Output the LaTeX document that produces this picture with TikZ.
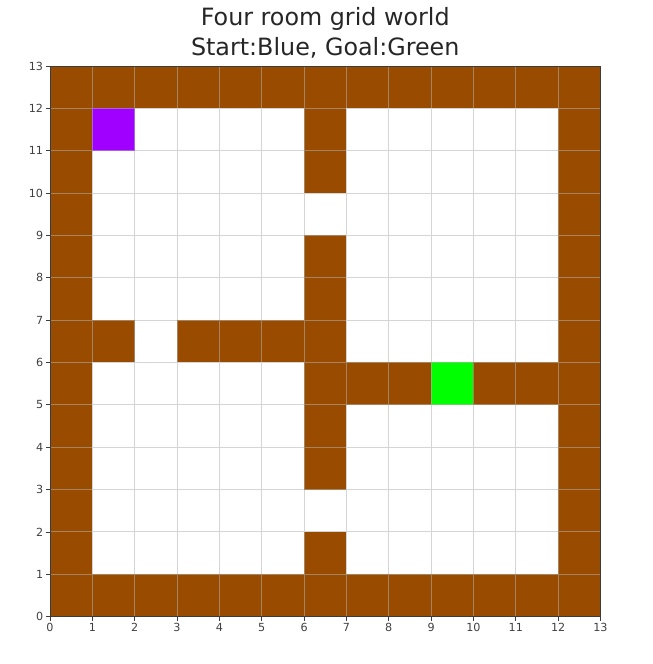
\documentclass[tikz,border=0pt]{standalone}
\usepackage{fontspec}
\setmainfont{DejaVu Sans}
\usepackage{xcolor}
\definecolor{wallbrown}{RGB}{153,76,0}
\definecolor{startpurple}{RGB}{160,0,255}
\definecolor{goalgreen}{RGB}{0,255,0}
\definecolor{spinegray}{RGB}{60,60,60}

\begin{document}
\begin{tikzpicture}[
  % Wall, start and goal cells
  wall/.style={fill=wallbrown},
  startcell/.style={fill=startpurple},
  goalcell/.style={fill=goalgreen},
  % Light grid drawn on top of the cells
  gridline/.style={draw=gray!60,opacity=0.55,line width=0.6pt},
  spine/.style={draw=spinegray,line width=0.5pt},
  tick/.style={draw=spinegray,line width=0.5pt},
  ticklabel/.style={font=\fontsize{7.5}{9}\selectfont,text=black!75,inner sep=1pt},
  titletext/.style={font=\fontsize{16}{20}\selectfont,text=black!85,align=center}
]
  \useasboundingbox (-1.18,-1.12) rectangle (14.23,14.56);

  % ---- Outer walls ----
  \fill[wall] (0,0)  rectangle (13,1);
  \fill[wall] (0,12) rectangle (13,13);
  \fill[wall] (0,0)  rectangle (1,13);
  \fill[wall] (12,0) rectangle (13,13);

  % ---- Inner walls (doorways left open) ----
  \fill[wall] (6,1)  rectangle (7,2);
  \fill[wall] (6,3)  rectangle (7,9);
  \fill[wall] (6,10) rectangle (7,12);
  \fill[wall] (1,6)  rectangle (2,7);
  \fill[wall] (3,6)  rectangle (6,7);
  \fill[wall] (7,5)  rectangle (12,6);

  % ---- Start and goal ----
  \fill[startcell] (1,11) rectangle (2,12);
  \fill[goalcell]  (9,5)  rectangle (10,6);

  % ---- Grid and frame ----
  \draw[gridline] (0,0) grid (13,13);
  \draw[spine] (0,0) rectangle (13,13);

  % ---- Axis ticks ----
  \foreach \i in {0,...,13} {
    \draw[tick] (\i,0) -- (\i,-0.1);
    \node[ticklabel,anchor=north] (xl\i) at (\i,-0.12) {\i};
    \draw[tick] (0,\i) -- (-0.1,\i);
    \node[ticklabel,anchor=east]  (yl\i) at (-0.12,\i) {\i};
  }

  % ---- Title ----
  \node[titletext] (title) at (6.5,13.79) {Four room grid world\\Start:Blue, Goal:Green};
\end{tikzpicture}
\end{document}
